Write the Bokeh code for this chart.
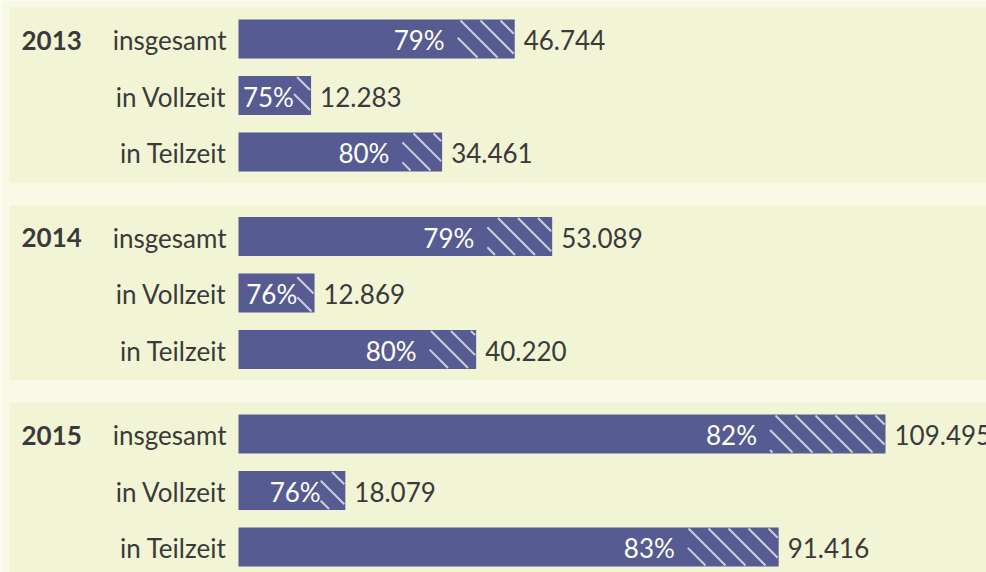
import re
import math
from bokeh.plotting import figure
from bokeh.models import Range1d, ColumnDataSource
from bokeh.core.properties import value
from bokeh.embed import file_html
from bokeh.resources import INLINE

years = ["2013", "2014", "2015"]
rows = ["insgesamt", "in Vollzeit", "in Teilzeit"]
totals = [46744, 12283, 34461, 53089, 12869, 40220, 109495, 18079, 91416]
shares = [79, 75, 80, 79, 76, 80, 82, 76, 83]

W, H = 986, 572
PPU = 647.0 / 109495.0          # pixels per unit
X0 = 238                          # pixel position of zero
FIRST, GSTEP, RSTEP = 38.5, 197.5, 56.5
BAR_H = 39
BASE = 1                          # empirical baseline shift
HATCH_STEP = 20                   # horizontal spacing of hatch lines (px)

PAGE = "#F8F9E7"
PANEL = "#F2F5D5"
BAR = "#565C91"
TXT = "#3A3A3A"
FONT = value("Lato")
FS = "26px"

p = figure(width=W, height=H, output_backend="svg", toolbar_location=None,
           x_range=Range1d(-X0 / PPU, (W - X0) / PPU), y_range=Range1d(H, 0),
           min_border=0, border_fill_color=PAGE, background_fill_color=PAGE,
           outline_line_color=None)
p.axis.visible = False
p.grid.visible = False

ys, ty, labels, solids, pct_txt, val_txt, pct_off = [], [], [], [], [], [], []
for gi, yr in enumerate(years):
    for ri, r in enumerate(rows):
        i = gi * 3 + ri
        y = FIRST + gi * GSTEP + ri * RSTEP
        ys.append(y)
        ty.append(y + BASE)
        labels.append(r)
        s = totals[i] * shares[i] / 100.0
        solids.append(s)
        pct_txt.append(f"{shares[i]}%")
        val_txt.append(f"{totals[i]:,}".replace(",", "."))
        pct_off.append(-12 if s * PPU > 100 else 1)

group_c = [FIRST + gi * GSTEP for gi in range(len(years))]
p.quad(left=[-(X0 - 9) / PPU] * 3, right=[(W + 10) / PPU] * 3,
       top=[c - 31.5 for c in group_c], bottom=[c + 143.5 for c in group_c],
       fill_color=PANEL, line_color=None)

src = ColumnDataSource(dict(y=ys, ty=ty, total=totals, solid=solids, zero=[0] * 9,
                            label=labels, pct=pct_txt, val=val_txt, off=pct_off))

p.hbar(y="y", left="zero", right="total", height=BAR_H, source=src,
       fill_color=BAR, line_color=None)

# hatch lines ("\") over the non-female remainder of every bar
hx0, hy0, hx1, hy1 = [], [], [], []
for y, s, t in zip(ys, solids, totals):
    xa = X0 + s * PPU + 1
    xb = X0 + t * PPU - 1
    ya, yb = y - BAR_H / 2 + 1, y + BAR_H / 2 - 1
    k0 = math.floor((xa - yb) / HATCH_STEP)
    k1 = math.ceil((xb - ya) / HATCH_STEP)
    for k in range(k0, k1 + 1):
        c = k * HATCH_STEP
        s0 = max(ya, xa - c)
        s1 = min(yb, xb - c)
        if s1 - s0 > 0.5:
            hx0.append((c + s0 - X0) / PPU)
            hy0.append(s0)
            hx1.append((c + s1 - X0) / PPU)
            hy1.append(s1)
p.segment(x0=hx0, y0=hy0, x1=hx1, y1=hy1, line_color="white",
          line_alpha=0.7, line_width=2)

p.text(x="solid", y="ty", text="pct", source=src, x_offset="off",
       text_font=FONT, text_font_size=FS, text_color="white",
       text_align="right", text_baseline="alphabetic")
p.text(x="total", y="ty", text="val", source=src, x_offset=9,
       text_font=FONT, text_font_size=FS, text_color=TXT,
       text_align="left", text_baseline="alphabetic")
p.text(x=-12 / PPU, y="ty", text="label", source=src,
       text_font=FONT, text_font_size=FS, text_color=TXT,
       text_align="right", text_baseline="alphabetic")
p.text(x=[-(X0 - 21) / PPU] * 3, y=[c + BASE for c in group_c], text=years,
       text_font=FONT, text_font_size=FS, text_font_style="bold",
       text_color=TXT, text_align="left", text_baseline="alphabetic")

html = file_html(p, INLINE)
html = re.sub(r"<body>", f'<body style="margin:0;background:{PAGE};overflow:hidden">', html, count=1)
open("out.html", "w").write(html)
